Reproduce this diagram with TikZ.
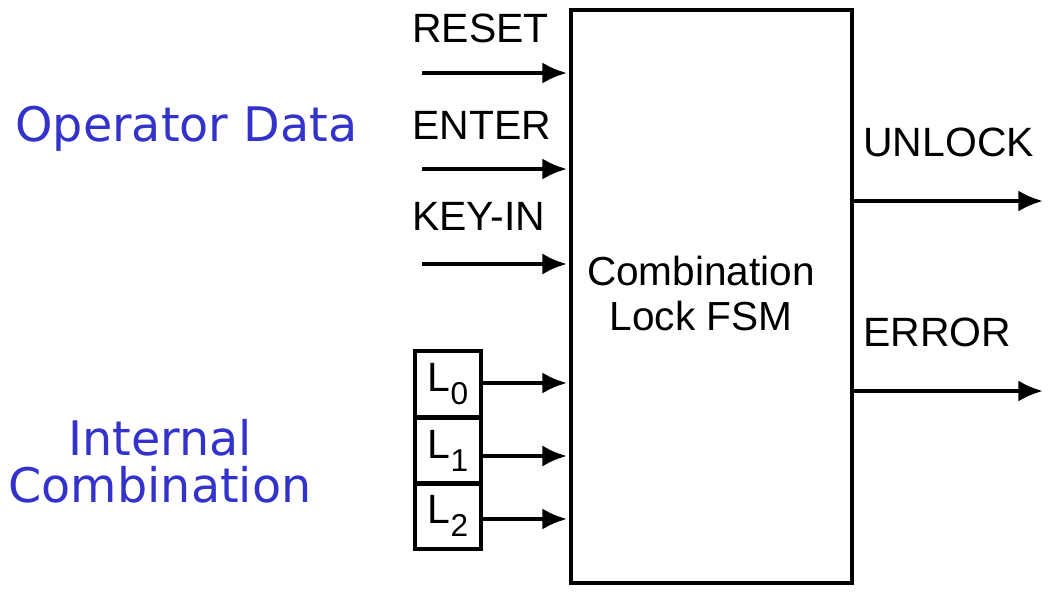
\documentclass[tikz,border=0pt]{standalone}
\usepackage{fontspec}
\setmainfont{Liberation Sans}
\newfontfamily\dejavu{DejaVu Sans}
\usetikzlibrary{arrows.meta}
\definecolor{labelblue}{RGB}{51,51,204}
\begin{document}
\begin{tikzpicture}[x=0.02cm,y=-0.02cm,
  sig/.style={line width=2.3pt,-{Latex[length=14pt,width=12pt]},shorten >=1.1pt},
  sigtext/.style={anchor=base west,inner sep=0pt,font=\fontsize{23.3}{26}\selectfont},
  grouptext/.style={inner sep=0pt,text=labelblue,font=\dejavu\fontsize{27.1}{26.7}\selectfont,align=center},
  regbox/.style={draw,line width=2.3pt,minimum width=1.32cm,minimum height=1.32cm,inner sep=0pt,font=\fontsize{23.3}{26}\selectfont},
  fsmbox/.style={draw,line width=2.3pt,minimum width=5.62cm,minimum height=11.46cm,inner sep=0pt}]
\useasboundingbox (0,0) rectangle (1051,592);

% the state machine
\node[fsmbox] (fsm) at (711.5,296.5) {};
\node[inner sep=0pt,align=center,font=\fontsize{23.1}{25.5}\selectfont,anchor=base] (fsmname) at (701,330) {Combination\\Lock FSM};

% operator inputs
\coordinate (rin) at (422,73);
\coordinate (ein) at (422,169);
\coordinate (kin) at (422,264);
\node[sigtext] (tr) at (412,42) {RESET};
\node[sigtext] (te) at (412,139) {ENTER};
\node[sigtext] (tk) at (412,230) {KEY-IN};
\draw[sig] (rin) -- (rin -| fsm.west);
\draw[sig] (ein) -- (ein -| fsm.west);
\draw[sig] (kin) -- (kin -| fsm.west);

% stored combination registers
\node[regbox] (l0) at (448,384) {L\raisebox{-0.32em}{\fontsize{18}{18}\selectfont 0}};
\node[regbox] (l1) at (448,451) {L\raisebox{-0.32em}{\fontsize{18}{18}\selectfont 1}};
\node[regbox] (l2) at (448,516) {L\raisebox{-0.32em}{\fontsize{18}{18}\selectfont 2}};
\coordinate (c0) at (481,383);
\coordinate (c1) at (481,456);
\coordinate (c2) at (481,519);
\draw[sig] (c0) -- (c0 -| fsm.west);
\draw[sig] (c1) -- (c1 -| fsm.west);
\draw[sig] (c2) -- (c2 -| fsm.west);

% outputs
\coordinate (uout) at (1043,201);
\coordinate (eout) at (1043,391);
\node[sigtext] (tu) at (863,156) {UNLOCK};
\node[sigtext] (tx) at (863,346) {ERROR};
\draw[sig,shorten >=0pt] (uout -| fsm.east) -- (uout);
\draw[sig,shorten >=0pt] (eout -| fsm.east) -- (eout);

% group labels
\node[grouptext,anchor=base west] (opdata) at (15,141) {Operator Data};
\node[grouptext,anchor=base] (intcomb) at (160,502) {Internal\\Combination};
\end{tikzpicture}
\end{document}
